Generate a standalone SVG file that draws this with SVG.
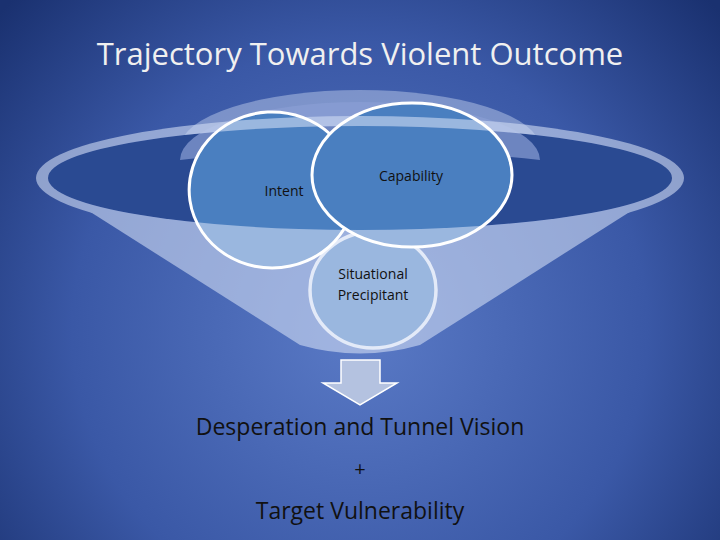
<svg xmlns="http://www.w3.org/2000/svg" width="720" height="540" viewBox="0 0 720 540">
<defs>
<radialGradient id="bg" cx="360" cy="330" r="480" gradientUnits="userSpaceOnUse">
<stop offset="0" stop-color="#5a7ac6"/><stop offset="0.6" stop-color="#3a58a6"/><stop offset="1" stop-color="#1a3170"/>
</radialGradient>
<mask id="m">
<path d="M40 180 L300 345 Q360 362 420 345 L680 180 Z" fill="#fff"/>
<ellipse cx="360" cy="178" rx="324" ry="62" fill="#fff"/>
<ellipse cx="360" cy="178" rx="312" ry="52" fill="#000"/>
</mask>
<style>
.c{fill:none;stroke:#fff;stroke-width:3}
.f{fill:#4a7fc0}
.t{font-family:"Open Sans","DejaVu Sans",sans-serif;text-anchor:middle}
.s{font-size:14px;fill:#111}
.b{font-size:23px;fill:#111}
</style>
</defs>
<rect width="720" height="540" fill="url(#bg)"/>
<text class="t" x="360" y="65" font-size="31" fill="#f0f0f0">Trajectory Towards Violent Outcome</text>
<g id="funnel">
<ellipse cx="360" cy="148" rx="180" ry="58" fill="#c8d4f0" fill-opacity="0.45"/>
<ellipse cx="360" cy="178" rx="312" ry="52" fill="#2a4a92"/>
<path d="M180 160 A180 58 0 0 1 540 160 A312 52 0 0 0 180 160 Z" fill="#8a9ed4" fill-opacity="0.7"/>
</g>
<g id="situational">
<ellipse class="f" cx="373" cy="290" rx="63" ry="58" stroke="#fff" stroke-width="3.5"/>
</g>
<g id="fills">
<ellipse class="f" cx="272" cy="190" rx="83" ry="78"/>
<ellipse class="f" cx="412" cy="175" rx="100" ry="72"/>
</g>
<rect width="720" height="540" fill="#d0dcf4" fill-opacity="0.6" mask="url(#m)"/>
<g id="situational-label">
<text class="t s" x="373" y="279">Situational</text>
<text class="t s" x="373" y="300">Precipitant</text>
</g>
<g id="intent">
<path class="c" d="M330 134 A83 78 0 1 0 344 229"/>
<text class="t s" x="284" y="196">Intent</text>
</g>
<g id="capability">
<ellipse class="c" cx="412" cy="175" rx="100" ry="72"/>
<text class="t s" x="411" y="181">Capability</text>
</g>
<g id="connectors">
<path d="M341 360 H380 V383 H397 L360 405 L323 383 H341 Z" fill="#b4c2e0" stroke="#fff" stroke-width="1.5"/>
</g>
<text class="t b" x="360" y="435">Desperation and Tunnel Vision</text>
<text class="t" x="360" y="476" font-size="20" fill="#111">+</text>
<text class="t b" x="360" y="519">Target Vulnerability</text>
</svg>
